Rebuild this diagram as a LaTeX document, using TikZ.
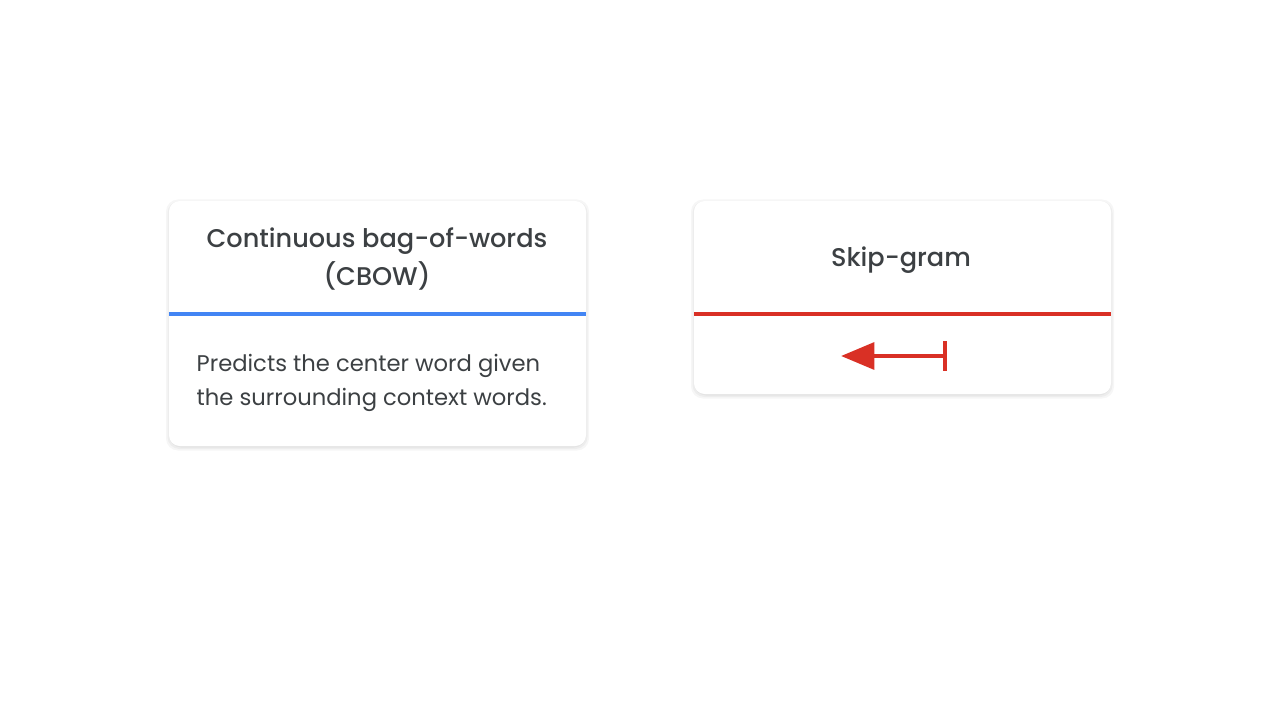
\documentclass[tikz,border=0pt]{standalone}
\usepackage{fontspec}
\setmainfont{Poppins}
\newfontfamily\titlefont{Poppins Medium}
\usetikzlibrary{arrows.meta}
\definecolor{gblue}{HTML}{4285F4}
\definecolor{gred}{HTML}{D93025}
\definecolor{gtext}{HTML}{3C4043}
\tikzset{
  card/.style={fill=white, rounded corners=8pt},
  cardshadow/.style={fill=black, opacity=0.035, rounded corners=9pt},
  titletext/.style={text=gtext, font=\titlefont\fontsize{19.2}{28.5}\selectfont, align=center},
  bodytext/.style={text=gtext, font=\fontsize{17}{25.5}\selectfont, align=left, anchor=west},
}
\begin{document}
\begin{tikzpicture}[x=0.75pt,y=-0.75pt]
\useasboundingbox[fill=white] (0,0) rectangle (1280,720);
% shadows
\foreach \d in {0,1.5,3}{
  \fill[cardshadow] (169-\d,201-\d+1.5) rectangle (586+\d,446+\d+1.5);
  \fill[cardshadow] (694-\d,201-\d+1.5) rectangle (1111+\d,394+\d+1.5);
}
% left card
\fill[card] (169,201) rectangle (586,446);
\draw[gblue, line width=3pt] (169,313.5) -- (586,313.5);
\node[titletext] (cbowtitle) at (377,259) {Continuous bag-of-words\\(CBOW)};
\node[bodytext] (cbowbody) at (192,383) {Predicts the center word given\\the surrounding context words.};
% right card
\fill[card] (694,201) rectangle (1111,394);
\draw[gred, line width=3pt] (694,313.5) -- (1111,313.5);
\node[titletext] (sgtitle) at (901,260) {Skip-gram};
\coordinate (arrstart) at (947,356);
\coordinate (arrend) at (841,356);
\draw[gred, line width=3.2pt, {Bar[width=22pt,line width=3.2pt]}-{Triangle[length=25pt,width=20pt]}] (arrstart) -- (arrend);
\end{tikzpicture}
\end{document}
